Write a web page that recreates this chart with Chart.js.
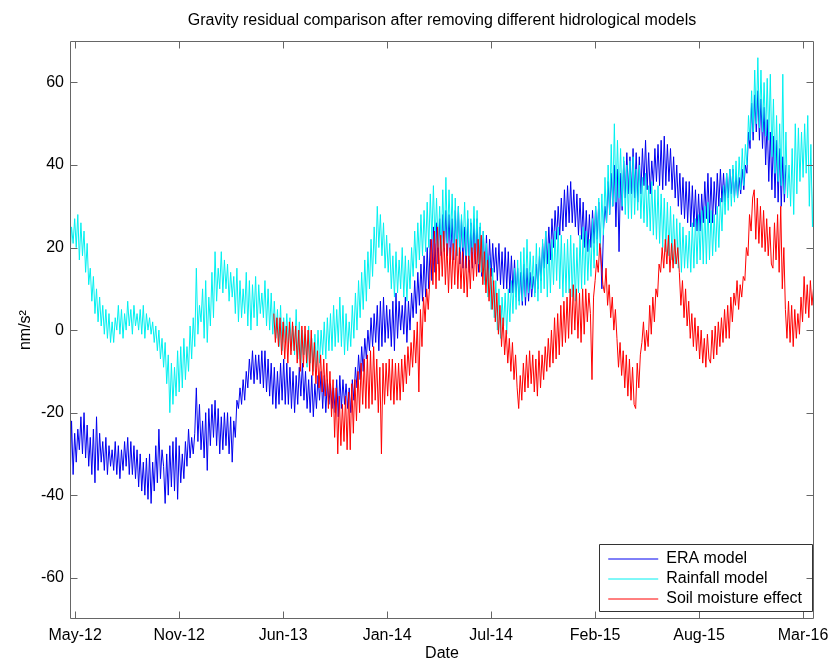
<!DOCTYPE html>
<html>
<head>
<meta charset="utf-8">
<script src="https://cdn.jsdelivr.net/npm/chart.js@4.4.1/dist/chart.umd.min.js"></script>
<style>
  html, body { margin: 0; padding: 0; background: #ffffff; }
  #wrap { width: 830px; height: 660px; position: relative; }
</style>
</head>
<body>
<div id="wrap"><canvas id="c"></canvas></div>
<script>
// ---------------- data ----------------
const chartTitle = 'Gravity residual comparison after removing different hidrological models';
const xAxisTitle = 'Date';
const yAxisTitle = 'nm/s\u00B2';
const seriesNames = ['ERA model', 'Rainfall model', 'Soil moisture effect'];

// x positions are days counted from 13 May 2012
const tickDays = [0, 200, 400, 600, 800, 1000, 1200, 1400];
const tickLabels = ['May-12', 'Nov-12', 'Jun-13', 'Jan-14', 'Jul-14', 'Feb-15', 'Aug-15', 'Mar-16'];
const yTicks = [-60, -40, -20, 0, 20, 40, 60];

const STEP_DAYS = 3;       // sampling interval of the value lists
const ERA_START = -10;     // first day of ERA series
const RAIN_START = -10;    // first day of rainfall series
const SOIL_START = 382;    // first day of soil moisture series

const eraValues = [
  -38, -22, -35, -25, -32, -24, -29, -21, -30, -20, -31, -23, -33, -26, -35, -24, -37, -21, -34, -25,
  -32, -27, -34, -26, -35, -28, -33, -29, -34, -27, -35, -28, -36, -29, -34, -27, -33, -26, -35, -27,
  -35, -28, -36, -29, -38, -30, -39, -32, -40, -31, -41, -30, -42, -32, -39, -28, -37, -24, -36, -29,
  -33, -42, -30, -40, -28, -38, -27, -39, -26, -41, -28, -37, -30, -36, -27, -33, -24, -31, -26, -30,
  -25, -14, -27, -18, -29, -22, -31, -20, -34, -19, -28, -18, -26, -17, -28, -19, -30, -21, -29, -20,
  -28, -20, -30, -21, -32, -22, -26, -17, -19, -14, -18, -12, -17, -10, -14, -7, -12, -5, -13, -6,
  -12, -6, -13, -5, -14, -5, -15, -7, -16, -8, -18, -9, -19, -10, -18, -8, -17, -7, -18, -8,
  -18, -9, -19, -10, -20, -11, -18, -9, -16, -8, -17, -10, -19, -12, -20, -11, -21, -13, -19, -11,
  -17, -10, -19, -11, -20, -12, -18, -13, -19, -14, -20, -12, -21, -11, -19, -12, -18, -13, -19, -14,
  -20, -12, -17, -9, -14, -6, -12, -4, -10, -2, -7, 0, -5, 3, -4, 4, -3, 6, -5, 7,
  -4, 8, -3, 6, -2, 5, -4, 7, -5, 9, -2, 7, 0, 6, -1, 8, -3, 7, 0, 9,
  3, 12, 4, 14, 6, 16, 7, 18, 8, 20, 10, 22, 12, 25, 14, 26, 16, 27, 18, 28,
  19, 29, 18, 28, 17, 27, 17, 29, 18, 30, 16, 27, 15, 25, 15, 27, 14, 26, 15, 27,
  16, 27, 14, 25, 13, 24, 12, 23, 12, 22, 13, 21, 14, 20, 12, 21, 11, 19, 10, 20,
  10, 19, 9, 18, 9, 17, 8, 15, 7, 14, 6, 16, 6, 15, 7, 14, 8, 13, 9, 16,
  10, 18, 12, 21, 15, 24, 16, 25, 17, 27, 20, 29, 22, 30, 23, 32, 24, 34, 25, 35,
  26, 36, 26, 34, 25, 33, 23, 32, 22, 31, 20, 29, 19, 28, 20, 29, 21, 30, 22, 31,
  22, 10, 24, 30, 26, 36, 28, 38, 30, 40, 25, 39, 19, 38, 29, 41, 32, 43, 33, 42,
  33, 44, 32, 43, 31, 42, 33, 44, 35, 46, 34, 43, 33, 41, 35, 44, 36, 45, 35, 46,
  34, 47, 35, 45, 36, 44, 34, 42, 32, 40, 30, 38, 28, 37, 27, 36, 26, 36, 25, 35,
  25, 34, 24, 33, 24, 33, 26, 36, 27, 38, 26, 37, 26, 36, 28, 38, 30, 39, 31, 38,
  31, 38, 32, 39, 33, 39, 32, 38, 32, 37, 33, 39, 34, 40, 38, 48, 44, 55, 46, 57,
  48, 58, 46, 56, 44, 54, 40, 51, 36, 48, 34, 47, 32, 46, 31, 44, 30, 42, 31, 40
];

const rainValues = [
  18, 25, 21, 27, 20, 28, 17, 26, 18, 24, 14, 21, 11, 15, 7, 13, 4, 10, 2, 8,
  1, 6, -1, 5, -2, 4, -3, 2, -3, 3, 0, 6, -1, 5, -2, 4, 0, 7, 1, 5,
  -1, 6, 1, 4, 0, 5, -1, 6, -2, 4, 0, 3, -1, 2, -3, 1, -5, 0, -7, -2,
  -9, -3, -13, -6, -20, -8, -18, -9, -16, -5, -15, -4, -14, -2, -12, -4, -10, 1, -7, 3,
  -4, 15, -1, 6, 2, 10, -2, 12, -3, 8, 1, 14, 3, 19, 7, 15, 10, 19, 9, 17,
  10, 16, 7, 14, 8, 13, 4, 15, 2, 12, 3, 10, 4, 14, 1, 12, 0, 11, 3, 13,
  1, 11, 4, 9, 3, 12, 1, 10, 0, 9, -1, 7, -2, 5, -4, 6, -5, 3, -3, 4,
  -4, 3, -5, 1, -6, 5, -7, 2, -8, 0, -6, -1, -9, 1, -8, -2, -10, -1, -9, 0,
  -8, 0, -6, 2, -7, 3, -5, 4, -5, 6, -4, 5, -3, 8, -4, 6, -6, 4, -5, 2,
  -4, 6, -2, 9, 0, 12, 3, 14, 5, 17, 7, 19, 10, 22, 13, 25, 16, 30, 20, 28,
  18, 26, 15, 23, 14, 21, 10, 18, 8, 19, 9, 17, 10, 20, 8, 18, 7, 17, 10, 20,
  13, 24, 15, 26, 17, 28, 18, 29, 19, 31, 20, 33, 22, 35, 21, 32, 20, 30, 19, 34,
  20, 37, 21, 34, 22, 33, 19, 32, 18, 30, 19, 28, 20, 31, 18, 29, 17, 27, 19, 30,
  18, 29, 16, 26, 14, 24, 11, 21, 8, 18, 5, 15, 3, 12, 0, 10, -2, 8, 1, 9,
  -1, 10, 2, 12, 4, 15, 5, 17, 6, 19, 7, 20, 8, 22, 9, 19, 10, 18, 8, 21,
  7, 20, 9, 22, 10, 24, 8, 21, 9, 22, 11, 24, 12, 25, 10, 23, 8, 21, 9, 22,
  9, 23, 8, 21, 7, 20, 9, 23, 10, 25, 11, 24, 12, 22, 13, 27, 15, 30, 18, 32,
  20, 33, 23, 37, 26, 40, 28, 45, 30, 50, 31, 46, 32, 44, 30, 42, 28, 40, 27, 41,
  27, 42, 28, 39, 29, 40, 27, 37, 26, 38, 25, 35, 24, 36, 23, 34, 22, 35, 21, 33,
  20, 32, 19, 31, 18, 30, 17, 28, 16, 27, 15, 26, 14, 25, 15, 23, 15, 24, 14, 26,
  15, 27, 16, 28, 17, 29, 16, 30, 16, 31, 17, 29, 18, 28, 19, 30, 20, 32, 24, 35,
  28, 38, 29, 39, 30, 40, 31, 41, 32, 42, 34, 44, 35, 45, 40, 52, 46, 58, 48, 63,
  50, 66, 49, 63, 48, 60, 47, 61, 46, 62, 42, 56, 38, 52, 36, 50, 35, 62, 33, 48,
  32, 40, 30, 44, 28, 50, 33, 49, 36, 48, 37, 50, 38, 52, 30, 45, 25, 40
];

const soilValues = [
  4, -3, 3, -4, 3, -6, 2, -7, 1, -8, 2, -6, 2, -5, 1, -8, 0, -10, 1, -9,
  1, -8, 0, -10, 0, -11, -3, -13, -5, -14, -6, -15, -7, -16, -8, -19, -10, -21, -12, -26,
  -14, -30, -16, -28, -18, -27, -16, -29, -15, -29, -13, -25, -12, -22, -10, -20, -8, -18, -7, -19,
  -6, -19, -5, -18, -4, -17, -7, -20, -9, -30, -8, -18, -8, -16, -7, -17, -7, -18, -8, -17,
  -8, -17, -7, -15, -6, -13, -4, -11, -3, -9, 0, -8, 2, -15, 5, -4, 8, 2, 10, 5,
  12, 22, 11, 24, 10, 25, 12, 23, 13, 24, 11, 21, 9, 20, 10, 21, 11, 22, 10, 20,
  10, 19, 9, 18, 8, 18, 10, 20, 12, 21, 13, 22, 14, 23, 11, 19, 9, 17, 7, 15,
  5, 12, 2, 9, -1, 6, -4, 3, -6, 0, -8, -2, -10, -3, -12, -6, -14, -19, -11, -17,
  -8, -15, -6, -14, -5, -13, -6, -15, -7, -16, -5, -14, -6, -12, -4, -10, -2, -9, 0, -8,
  3, -7, 4, -6, 6, -4, 7, -3, 8, -2, 10, -1, 11, 0, 10, -2, 9, -3, 10, -1,
  10, 2, 9, 4, -12, 8, 12, 17, 14, 21, 16, 11, 9, 15, 6, 11, 3, 8, 0, 5,
  -2, -9, -3, -11, -5, -14, -6, -16, -7, -17, -9, -18, -19, -8, -14, -6, -3, 2, -5, 0,
  -4, 6, -1, 8, 2, 10, 8, 16, 14, 20, 15, 22, 16, 23, 14, 21, 15, 22, 16, 20,
  14, 6, 12, 3, 10, 1, 7, -2, 4, -4, 3, -5, 1, -7, 0, -8, -2, -9, -1, -7,
  -8, 0, -7, 1, -6, 2, -4, 3, -3, 5, -2, 6, -2, 8, 2, 9, 6, 12, 5, 11,
  8, 13, 12, 20, 18, 28, 24, 32, 34, 22, 32, 21, 30, 20, 29, 19, 27, 18, 25, 16,
  15, 26, 17, 28, 14, 30, 10, 20, 5, -2, 7, -3, 6, -4, 5, -2, 4, -1, 8, 2,
  13, 4, 11, 3, 12, 6, 10
];

// ---------------- chart ----------------
const FONT = "'Liberation Sans', Arial, Helvetica, sans-serif";
const AXIS_COLOR = '#666666';
const TICK_LEN = 7;

function toPoints(values, startDay) {
  return values.map((v, i) => ({ x: startDay + i * STEP_DAYS, y: v }));
}

Chart.defaults.color = '#000000';
Chart.defaults.font.family = FONT;
Chart.defaults.font.size = 16;

const matlabBox = {
  id: 'matlabBox',
  afterLayout(chart) {
    const lg = chart.legend;
    const ca = chart.chartArea;
    if (!lg) return;
    const w = lg.width;
    lg.left = ca.right - w - 2;
    lg.right = lg.left + w;
    lg.top = ca.top;
    lg.bottom = ca.bottom - 8;
  },
  afterDraw(chart) {
    const { ctx, chartArea: ca, scales } = chart;
    const xs = scales.x, ys = scales.y;
    const L = Math.round(ca.left) + 0.5, R = Math.round(ca.right) - 0.5;
    const T = Math.round(ca.top) + 0.5, B = Math.round(ca.bottom) - 0.5;
    ctx.save();
    ctx.strokeStyle = AXIS_COLOR;
    ctx.lineWidth = 1;
    ctx.beginPath();
    ctx.rect(L, T, R - L, B - T);
    xs.ticks.forEach(t => {
      const p = Math.round(xs.getPixelForValue(t.value)) + 0.5;
      ctx.moveTo(p, B); ctx.lineTo(p, B - TICK_LEN);
      ctx.moveTo(p, T); ctx.lineTo(p, T + TICK_LEN);
    });
    ys.ticks.forEach(t => {
      const p = Math.round(ys.getPixelForValue(t.value)) + 0.5;
      ctx.moveTo(L, p); ctx.lineTo(L + TICK_LEN, p);
      ctx.moveTo(R, p); ctx.lineTo(R - TICK_LEN, p);
    });
    ctx.stroke();
    // legend frame
    const lg = chart.legend;
    if (lg && lg.legendHitBoxes && lg.legendHitBoxes.length) {
      const hb = lg.legendHitBoxes;
      const l = Math.min(...hb.map(h => h.left)) - 9;
      const t = Math.min(...hb.map(h => h.top)) - 7;
      const r = Math.max(...hb.map(h => h.left + h.width)) + 10;
      const b = Math.max(...hb.map(h => h.top + h.height)) + 4;
      ctx.strokeStyle = '#333333';
      ctx.beginPath();
      ctx.rect(Math.round(l) + 0.5, Math.round(t) + 0.5, Math.round(r - l), Math.round(b - t));
      ctx.stroke();
    }
    ctx.restore();
  }
};

new Chart(document.getElementById('c'), {
  type: 'line',
  data: {
    datasets: [
      { label: seriesNames[0], data: toPoints(eraValues, ERA_START), borderColor: '#0000f0', order: 2 },
      { label: seriesNames[1], data: toPoints(rainValues, RAIN_START), borderColor: '#00f0f0', order: 1 },
      { label: seriesNames[2], data: toPoints(soilValues, SOIL_START), borderColor: '#ff0000', order: 0 }
    ]
  },
  options: {
    animation: false,
    responsive: true,
    maintainAspectRatio: false,
    devicePixelRatio: 1,
    layout: { padding: { left: 0, right: 16, top: 0, bottom: 0 } },
    elements: {
      line: { borderWidth: 1, tension: 0, fill: false },
      point: { radius: 0, hoverRadius: 0 }
    },
    plugins: {
      title: {
        display: true,
        text: chartTitle,
        fullSize: false,
        color: '#000000',
        font: { family: FONT, size: 16, weight: 'normal', lineHeight: 1.2 },
        padding: { top: 11, bottom: 11 }
      },
      legend: {
        position: 'chartArea',
        align: 'end',
        labels: {
          usePointStyle: true,
          pointStyle: 'line',
          pointStyleWidth: 50,
          padding: 4,
          color: '#000000',
          font: { family: FONT, size: 16 },
          sort: (a, b) => a.datasetIndex - b.datasetIndex
        }
      },
      tooltip: { enabled: false }
    },
    scales: {
      x: {
        type: 'linear',
        min: -10,
        max: 1421,
        grid: { display: false, drawTicks: false },
        border: { display: false },
        afterBuildTicks: s => { s.ticks = tickDays.map(v => ({ value: v })); },
        afterFit: s => { s.height = 41; s.paddingLeft = 0; s.paddingRight = 0; },
        ticks: {
          padding: 7,
          maxRotation: 0,
          autoSkip: false,
          color: '#000000',
          font: { family: FONT, size: 16 },
          callback: v => { const i = tickDays.indexOf(v); return i >= 0 ? tickLabels[i] : ''; }
        },
        title: {
          display: true,
          text: xAxisTitle,
          color: '#000000',
          font: { family: FONT, size: 16, lineHeight: 0.8 },
          padding: { top: 0, bottom: 0 }
        }
      },
      y: {
        type: 'linear',
        min: -70,
        max: 70,
        grid: { display: false, drawTicks: false },
        border: { display: false },
        afterBuildTicks: s => { s.ticks = yTicks.map(v => ({ value: v })); },
        afterFit: s => { s.width = 70; s.paddingTop = 0; s.paddingBottom = 0; },
        ticks: {
          padding: 6,
          color: '#000000',
          font: { family: FONT, size: 16 }
        },
        title: {
          display: true,
          text: yAxisTitle,
          color: '#000000',
          font: { family: FONT, size: 16, lineHeight: 1.2 },
          padding: { top: 16, bottom: 0 }
        }
      }
    }
  },
  plugins: [matlabBox]
});
</script>
</body>
</html>
